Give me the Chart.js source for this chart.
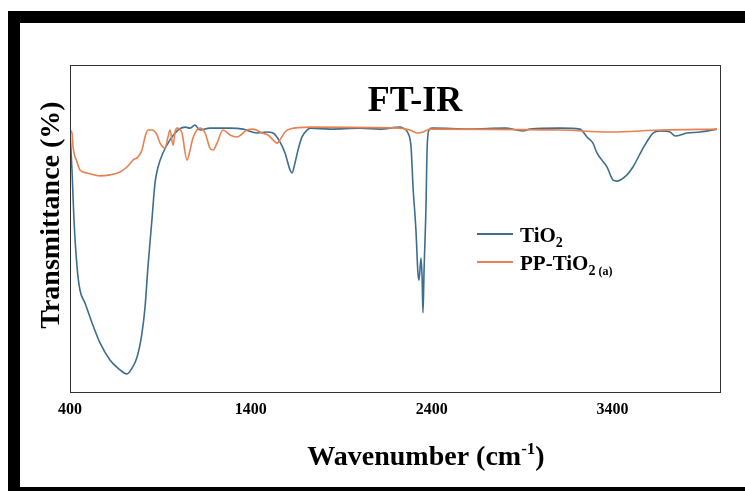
<!DOCTYPE html>
<html>
<head>
<meta charset="utf-8">
<title>FT-IR</title>
<script src="https://cdn.jsdelivr.net/npm/chart.js@4.4.1/dist/chart.umd.min.js"></script>
<style>
    html, body { margin: 0; padding: 0; background: #fff; }
    #wrap { width: 745px; height: 491px; }
</style>
</head>
<body>
<div id="wrap"><canvas id="ftir" width="745" height="491"></canvas></div>
<script>
    // values (wavenumber in cm-1, transmittance in %)
    const tio2Wavenumber = [
        400, 411, 422, 439, 455, 483, 522, 566, 621, 665, 715, 743, 771, 798, 815, 831, 853, 870, 887, 914,
        953, 997, 1036, 1064, 1091, 1119, 1174, 1285, 1357, 1434, 1489, 1523, 1561, 1589, 1617, 1628, 1644, 1661, 1683, 1711,
        1727, 1838, 2004, 2114, 2225, 2241, 2269, 2286, 2297, 2313, 2324, 2330, 2341, 2347, 2352, 2358, 2369, 2374, 2385, 2402,
        2612, 2806, 2905, 2944, 3110, 3220, 3259, 3292, 3314, 3370, 3403, 3425, 3480, 3513, 3569, 3607, 3624, 3663, 3718, 3746,
        3812, 3884, 3978
    ];
    const tio2Transmittance = [
        79.5, 67.9, 52.6, 38.2, 31.2, 27.2, 21.1, 15.0, 9.8, 7.3, 5.5, 7.3, 10.7, 18.0, 26.0, 38.2, 52.6, 63.9, 68.8, 73.1,
        77.1, 80.1, 81.0, 80.7, 81.6, 80.1, 80.7, 80.7, 80.4, 79.2, 79.5, 79.2, 76.5, 73.1, 67.9, 67.0, 70.0, 74.0, 78.0, 80.1,
        80.7, 80.4, 80.7, 80.4, 81.0, 80.7, 79.2, 74.9, 62.7, 49.5, 36.4, 34.2, 41.0, 35.2, 24.2, 37.3, 57.8, 73.1, 80.1, 80.7,
        80.4, 80.7, 79.8, 80.4, 80.7, 80.4, 78.0, 76.1, 73.1, 68.8, 64.8, 64.5, 66.4, 68.8, 74.6, 78.0, 79.2, 79.8, 79.5, 78.3,
        79.2, 79.5, 80.4
    ];
    const ppWavenumber = [
        400, 411, 417, 439, 455, 494, 566, 621, 677, 715, 748, 776, 798, 815, 831, 853, 881, 898, 925, 942,
        953, 970, 981, 992, 1019, 1047, 1064, 1080, 1119, 1147, 1174, 1191, 1213, 1246, 1285, 1323, 1379, 1412, 1462, 1495,
        1523, 1545, 1561, 1589, 1617, 1727, 2225, 2280, 2324, 2352, 2391, 3110, 3386, 3663, 3978
    ];
    const ppTransmittance = [
        80.1, 79.2, 74.9, 70.3, 67.9, 67.0, 66.1, 66.4, 67.3, 68.8, 70.9, 71.9, 74.0, 78.0, 80.1, 80.1, 78.6, 76.1, 74.6, 78.0,
        80.1, 75.5, 79.5, 80.7, 79.2, 70.9, 74.0, 77.7, 80.7, 79.2, 74.6, 74.0, 76.1, 80.1, 78.6, 78.0, 80.1, 80.4, 79.2, 78.6,
        77.1, 76.1, 77.1, 79.5, 80.4, 81.0, 80.7, 80.1, 79.2, 79.5, 80.4, 80.1, 79.5, 80.1, 80.4
    ];
    const xTickValues = [ 400, 1400, 2400, 3400 ];

    const serif = '"Liberation Serif", "Times New Roman", serif';
    const colors = { tio2: '#3c6e8f', pp: '#ea8050' };

    function toPoints ( xs, ys )
    {
        return xs.map( ( x, i ) => ( { x, y: ys[ i ] } ) );
    }

    // draws text made of runs of different sizes / baseline shifts
    function drawRuns ( ctx, x, y, runs, align )
    {
        let total = 0;
        runs.forEach( r =>
        {
            ctx.font = `bold ${ r.size }px ${ serif }`;
            r.w = ctx.measureText( r.text ).width;
            total += r.w;
        } );
        let cx = align === 'center' ? x - total / 2 : x;
        runs.forEach( r =>
        {
            ctx.font = `bold ${ r.size }px ${ serif }`;
            ctx.fillText( r.text, cx, y + ( r.dy || 0 ) );
            cx += r.w;
        } );
    }

    const decor = {
        id: 'ftirDecor',
        beforeDraw ( chart )
        {
            const { ctx } = chart;
            ctx.save();
            ctx.fillStyle = '#fff';
            ctx.fillRect( 0, 0, chart.width, chart.height );
            ctx.fillStyle = '#000';
            ctx.fillRect( 8, 11, 737, 12 );
            ctx.fillRect( 8, 11, 12, 480 );
            ctx.fillRect( 8, 487, 737, 4 );
            ctx.restore();
        },
        afterDraw ( chart )
        {
            const { ctx, chartArea: a } = chart;
            ctx.save();
            ctx.strokeStyle = '#333';
            ctx.lineWidth = 1;
            ctx.strokeRect( a.left + 0.5, a.top + 0.5, a.width - 1, a.height );

            ctx.fillStyle = '#000';
            ctx.textBaseline = 'alphabetic';
            ctx.textAlign = 'left';

            // chart title inside the plot box
            drawRuns( ctx, 415, 111, [ { text: 'FT-IR', size: 36 } ], 'center' );

            // x axis title
            drawRuns( ctx, 426, 465, [
                { text: 'Wavenumber (cm', size: 28 },
                { text: '-1', size: 17, dy: -11 },
                { text: ')', size: 28 }
            ], 'center' );

            // y axis title
            ctx.save();
            ctx.translate( 59, 215 );
            ctx.rotate( -Math.PI / 2 );
            drawRuns( ctx, 0, 0, [ { text: 'Transmittance (%)', size: 28 } ], 'center' );
            ctx.restore();

            // legend
            const ds = chart.data.datasets;
            const rows = [
                { y: 234, color: ds[ 0 ].borderColor, runs: [ { text: 'TiO', size: 21 }, { text: '2', size: 14, dy: 5 } ] },
                { y: 262, color: ds[ 1 ].borderColor, runs: [ { text: 'PP-TiO', size: 21 }, { text: '2', size: 14, dy: 5 }, { text: ' (a)', size: 12, dy: 5 } ] }
            ];
            rows.forEach( row =>
            {
                ctx.strokeStyle = row.color;
                ctx.lineWidth = 2;
                ctx.beginPath();
                ctx.moveTo( 477, row.y );
                ctx.lineTo( 513, row.y );
                ctx.stroke();
                drawRuns( ctx, 520, row.y + 8, row.runs, 'left' );
            } );
            ctx.restore();
        }
    };

    new Chart( document.getElementById( 'ftir' ), {
        type: 'line',
        data: {
            datasets: [
                {
                    label: 'TiO2',
                    data: toPoints( tio2Wavenumber, tio2Transmittance ),
                    borderColor: colors.tio2,
                    borderWidth: 1.6,
                    pointRadius: 0,
                    cubicInterpolationMode: 'monotone',
                    order: 1
                },
                {
                    label: 'PP-TiO2 (a)',
                    data: toPoints( ppWavenumber, ppTransmittance ),
                    borderColor: colors.pp,
                    borderWidth: 1.6,
                    pointRadius: 0,
                    cubicInterpolationMode: 'monotone',
                    order: 0
                }
            ]
        },
        options: {
            responsive: false,
            devicePixelRatio: 1,
            animation: false,
            layout: { padding: { left: 70, right: 24, top: 65, bottom: 0 } },
            plugins: {
                legend: { display: false },
                tooltip: { enabled: false },
                title: { display: false }
            },
            scales: {
                x: {
                    type: 'linear',
                    min: 400,
                    max: 4000,
                    grid: { display: false, drawTicks: false },
                    border: { display: false },
                    afterBuildTicks: scale =>
                    {
                        scale.ticks = xTickValues.map( v => ( { value: v } ) );
                    },
                    afterFit: scale =>
                    {
                        scale.height = 99;
                    },
                    ticks: {
                        autoSkip: false,
                        maxRotation: 0,
                        padding: 8,
                        color: '#000',
                        font: { family: serif, size: 16, weight: 'bold' },
                        callback: v => String( v )
                    }
                },
                y: {
                    display: false,
                    min: 0,
                    max: 100
                }
            }
        },
        plugins: [ decor ]
    } );
</script>
</body>
</html>
